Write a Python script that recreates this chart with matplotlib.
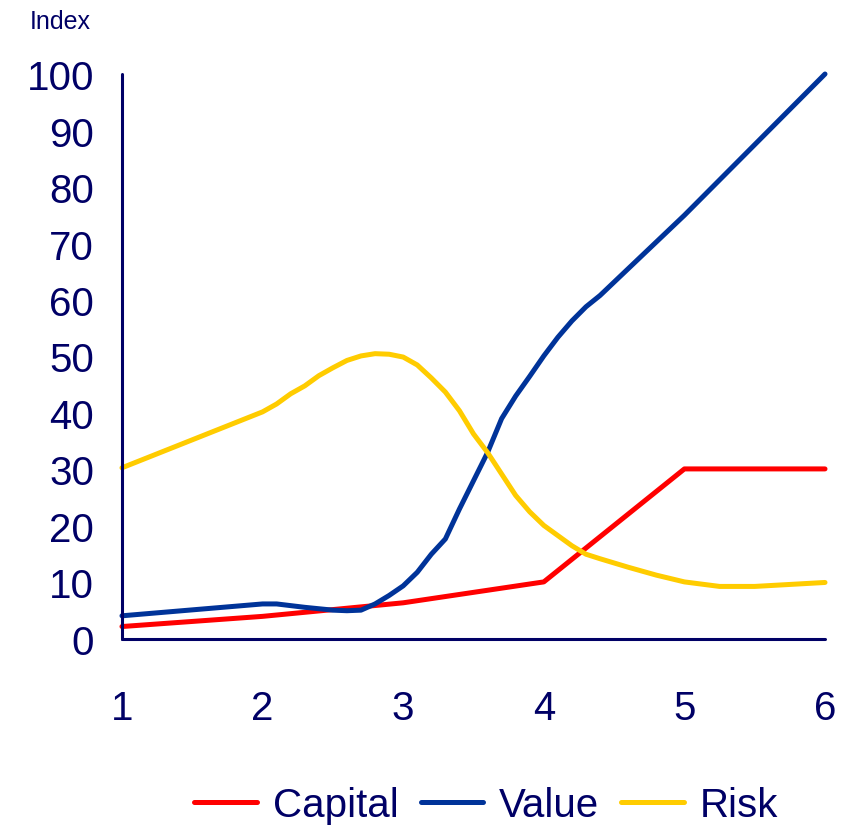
import matplotlib.pyplot as plt

plt.rcParams['font.family'] = ['Liberation Sans', 'DejaVu Sans']

NAVY = '#000066'

# Capital index, yearly points
capital_x = [1, 2, 3, 4, 5, 6]
capital_y = [2.2, 4.0, 6.4, 10.1, 30.1, 30.1]

# Value index
value_x = [1, 2, 2.1, 2.3, 2.5, 2.6, 2.7, 2.8, 2.9, 3.0, 3.1, 3.2, 3.3, 3.4,
           3.5, 3.6, 3.7, 3.8, 3.9, 4.0, 4.1, 4.2, 4.3, 4.4, 5.0, 6.0]
value_y = [4.1, 6.2, 6.2, 5.6, 5.1, 5.0, 5.1, 6.2, 7.7, 9.4, 11.8, 15.0, 17.7, 23.0,
           28.0, 33.0, 39.0, 43.0, 46.5, 50.1, 53.4, 56.3, 58.8, 60.8, 75.0, 100.0]

# Risk index
risk_x = [1, 2, 2.1, 2.2, 2.3, 2.4, 2.5, 2.6, 2.7, 2.8, 2.9, 3.0, 3.1, 3.2, 3.3,
          3.4, 3.5, 3.6, 3.7, 3.8, 3.9, 4.0, 4.1, 4.2, 4.3, 4.4, 4.6, 4.8, 5.0,
          5.25, 5.5, 6.0]
risk_y = [30.3, 40.2, 41.6, 43.4, 44.8, 46.6, 48.0, 49.3, 50.1, 50.5, 50.4, 49.9,
          48.5, 46.2, 43.7, 40.4, 36.3, 33.0, 29.2, 25.4, 22.5, 20.1, 18.3, 16.5,
          15.0, 14.2, 12.7, 11.3, 10.1, 9.3, 9.3, 10.0]

fig = plt.figure(figsize=(8.5, 8.28), dpi=100)
ax = fig.add_axes([0.1435, 0.2271, 0.8271, 0.6823])

lw = 3.6
ax.plot(capital_x, capital_y, color='#ff0000', lw=lw, label='Capital',
        solid_capstyle='round', solid_joinstyle='round', clip_on=False)
ax.plot(value_x, value_y, color='#003399', lw=lw, label='Value',
        solid_capstyle='round', solid_joinstyle='round', clip_on=False)
ax.plot(risk_x, risk_y, color='#ffcc00', lw=lw, label='Risk',
        solid_capstyle='round', solid_joinstyle='round', clip_on=False)

ax.set_xlim(1, 6)
ax.set_ylim(0, 100)
ax.set_xticks(range(1, 7))
ax.set_yticks(range(0, 101, 10))

for side in ['top', 'right']:
    ax.spines[side].set_visible(False)
for side in ['left', 'bottom']:
    ax.spines[side].set_color(NAVY)
    ax.spines[side].set_linewidth(2.2)
    ax.spines[side].set_capstyle('round')

ax.tick_params(axis='both', length=0, labelsize=29, labelcolor=NAVY)
ax.tick_params(axis='x', pad=36)
ax.tick_params(axis='y', pad=20)

fig.text(0.035, 0.973, 'Index', fontsize=18, color=NAVY, va='center', ha='left')

fig.legend(loc='center', bbox_to_anchor=(0.572, 0.026), ncol=3, frameon=False,
           fontsize=29, labelcolor=NAVY, handlelength=1.55, handletextpad=0.4,
           columnspacing=0.55)

fig.savefig('out.png', dpi=100)
